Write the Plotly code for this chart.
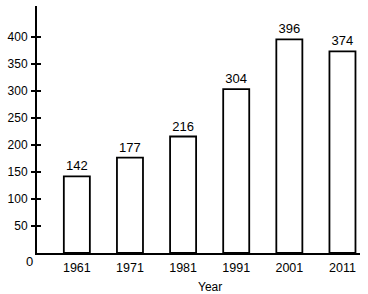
import plotly.graph_objects as go

years = ["1961", "1971", "1981", "1991", "2001", "2011"]
values = [142, 177, 216, 304, 396, 374]
ytick_vals = [50, 100, 150, 200, 250, 300, 350, 400]

font_family = "Liberation Sans, Arial, sans-serif"

fig = go.Figure()
fig.add_trace(go.Bar(
    x=years, y=values,
    text=[str(v) for v in values],
    textposition="outside",
    textfont=dict(size=13, color="black", family=font_family),
    cliponaxis=False,
    marker=dict(color="white", line=dict(color="black", width=1.8)),
    showlegend=False,
))
# invisible trace on overlaying axis for inner tick marks
fig.add_trace(go.Scatter(x=years, y=values, yaxis="y2", mode="markers",
                         marker=dict(opacity=0), showlegend=False, hoverinfo="skip"))

yrange = [0, 458]
fig.update_layout(
    width=368, height=294,
    margin=dict(l=37, r=8, t=6, b=41),
    paper_bgcolor="white", plot_bgcolor="white",
    bargap=0.51,
    font=dict(family=font_family, color="black", size=12),
    xaxis=dict(
        type="category", range=[-0.75, 5.33],
        showline=True, linecolor="black", linewidth=2,
        ticks="", showgrid=False, zeroline=False,
        tickfont=dict(size=12.5), ticklabelstandoff=2,
    ),
    yaxis=dict(
        range=yrange, tickvals=ytick_vals,
        showline=True, linecolor="black", linewidth=2,
        ticks="outside", ticklen=4, tickwidth=1.5, tickcolor="black",
        showgrid=False, zeroline=False,
        tickfont=dict(size=12), ticklabelstandoff=1,
    ),
    yaxis2=dict(
        range=yrange, tickvals=ytick_vals, overlaying="y", side="left",
        ticks="inside", ticklen=4, tickwidth=1.5, tickcolor="black",
        showticklabels=False, showgrid=False, zeroline=False, showline=False,
    ),
    annotations=[
        dict(text="0", xref="paper", yref="paper", x=-0.005, y=0, xanchor="right",
             yanchor="top", yshift=1, showarrow=False, font=dict(size=13)),
        dict(text="Year", xref="paper", yref="paper", x=0.535, y=0, xanchor="center",
             yanchor="top", yshift=-25, showarrow=False, font=dict(size=12)),
    ],
)

fig.write_html("out.html")
